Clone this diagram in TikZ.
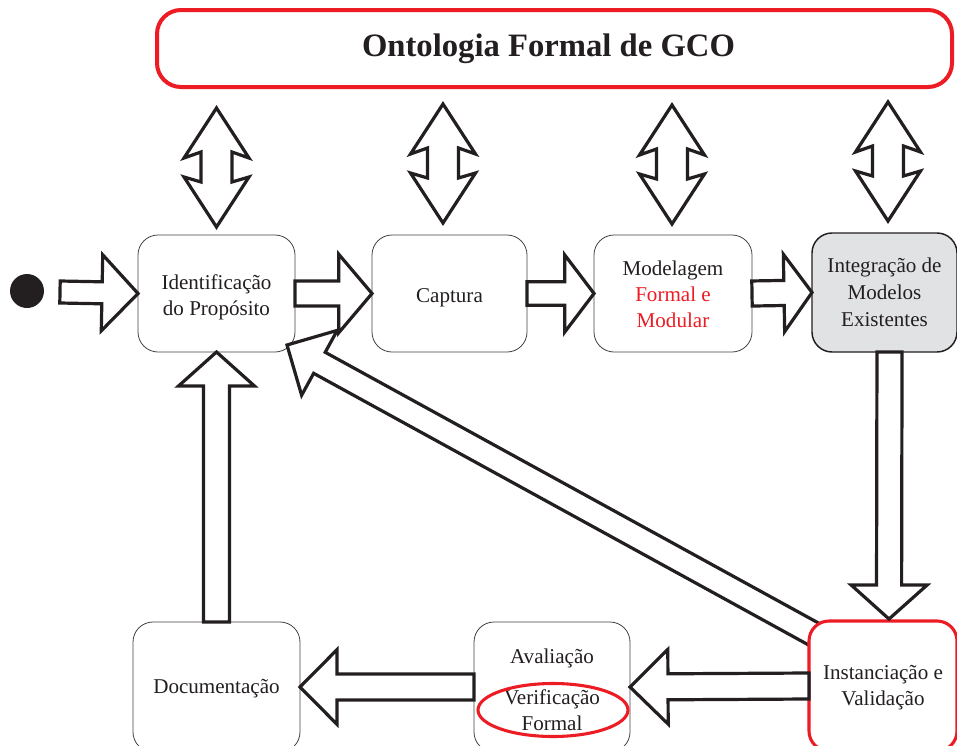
\documentclass[tikz,border=0pt]{standalone}
\usepackage{fontspec}
\setmainfont{Liberation Serif}
\usetikzlibrary{calc}

\definecolor{ink}{HTML}{231F20}
\definecolor{redline}{HTML}{ED1C24}
\definecolor{panel}{HTML}{E1E2E4}

\tikzset{
  stage/.style={draw=ink!85, line width=0.6pt, fill=white, rounded corners=15pt,
    inner sep=0pt, outer sep=0pt, text=ink,
    font=\fontsize{15.8}{19.5}\selectfont, minimum height=87.75pt},
  hollow/.style={draw=ink, line width=2.4pt, fill=white, line join=miter, miter limit=4},
  pics/twoway/.style={code={
    \draw[hollow] (0,-59.5) -- (32.5,-9.5) -- (15.5,-15.5) -- (15.5,14.5) -- (32.5,9.5)
      -- (0,59.5) -- (-32.5,9.5) -- (-15.5,14.5) -- (-15.5,-15.5) -- (-32.5,-9.5) -- cycle;
  }}
}

% centred lines of a stage label, drawn #1 lower than the box they occupy
\newcommand\stagetext[2]{\raisebox{-#1}[\height][\depth]{\begin{tabular}{@{}c@{}}#2\end{tabular}}}

% hollow block arrow: tail, tip, shaft half width, head half width, head length
\newcommand\hollowarrow[5]{%
  \coordinate (ha-base) at ($(#2)!#5!(#1)$);
  \draw[hollow] ($(#1)!#3!90:(#2)$) -- ($(ha-base)!#3!90:(#2)$) -- ($(ha-base)!#4!90:(#2)$)
    -- (#2) -- ($(ha-base)!#4!-90:(#2)$) -- ($(ha-base)!#3!-90:(#2)$)
    -- ($(#1)!#3!-90:(#2)$) -- cycle;
}

\begin{document}
\begin{tikzpicture}[x=0.75pt, y=-0.75pt]
\clip (0,0) rectangle (957,746);
\fill[white] (0,0) rectangle (957,746);

% ontology banner
\node[draw=redline, line width=3pt, rounded corners=18pt, fill=white,
  minimum width=596.25pt, minimum height=57.75pt, inner sep=0pt, outer sep=0pt,
  text=ink, font=\fontsize{24.5}{28}\selectfont\bfseries] (onto) at (554.5,48.5)
  {\hspace*{-9pt}Ontologia Formal de GCO};

% process stages
\node[stage, minimum width=117.75pt] (idp) at (216.5,293.5)
  {\stagetext{2.6pt}{Identificação\\do Propósito}};
\node[stage, minimum width=116.25pt] (cap) at (449.5,293.5) {\stagetext{3pt}{Captura}};
\node[stage, minimum width=118.5pt] (mod) at (673,293.5)
  {\stagetext{2.25pt}{Modelagem\\\textcolor{redline}{Formal e}\\\textcolor{redline}{Modular}}};
\node[stage, draw=ink, line width=1.1pt, fill=panel, minimum width=108.75pt,
  minimum height=89.25pt] (int) at (884.5,292.5)
  {\stagetext{1.5pt}{Integração de\\[0.6pt]Modelos\\[0.6pt]Existentes}};
\node[stage, minimum width=125.25pt, minimum height=97.5pt] (doc) at (216.5,687)
  {\stagetext{0.75pt}{Documentação}};
\node[stage, minimum width=117pt, minimum height=97.5pt] (ava) at (552,687)
  {\stagetext{3.75pt}{Avaliação\\[11pt]Verificação\\Formal}};

% start marker
\node[circle, fill=ink, minimum size=25.5pt, inner sep=0pt] (start) at (27,291) {};
\coordinate (s0) at (60,292);

% feedback from instantiation back to purpose identification
\coordinate (dtip) at ([shift={(-8,-7)}]idp.south east);
\coordinate (dtail) at (819,637);
\hollowarrow{dtail}{dtip}{9pt}{27.75pt}{27.75pt}

\node[stage, draw=redline, line width=2.3pt, minimum width=111pt, minimum height=97.5pt]
  (ins) at (883,686) {\stagetext{1.1pt}{Instanciação e\\Validação}};

% main flow
\hollowarrow{s0}{idp.west}{8.25pt}{28.5pt}{27pt}
\hollowarrow{idp.east}{cap.west}{9.4pt}{29.5pt}{25pt}
\hollowarrow{cap.east}{mod.west}{8.8pt}{29pt}{22pt}
\hollowarrow{mod.east}{int.west}{9.4pt}{29pt}{21pt}

\coordinate (r0) at ([xshift=3.75pt]int.south);
\coordinate (r1) at ([xshift=4.5pt,yshift=1.5pt]ins.north);
\hollowarrow{r0}{r1}{9.4pt}{28.5pt}{25.5pt}

\hollowarrow{ins.west}{ava.east}{9.75pt}{28pt}{28.5pt}
\hollowarrow{ava.west}{doc.east}{9.75pt}{28pt}{27.75pt}
\hollowarrow{doc.north}{idp.south}{9.75pt}{28.5pt}{25.5pt}

% links with the ontology
\pic (o1) at ($($(onto.south -| idp.north)!0.5!(idp.north)$) + (0,6.5)$) {twoway};
\pic (o2) at ($($(onto.south -| cap.north)!0.5!(cap.north)$) + (-6.5,2.5)$) {twoway};
\pic (o3) at ($($(onto.south -| mod.north)!0.5!(mod.north)$) + (-1,3.5)$) {twoway};
\pic (o4) at ($($(onto.south -| int.north)!0.5!(int.north)$) + (3.5,1.5)$) {twoway};

% highlight around the formal verification
\draw[redline, line width=2.3pt] (553,710) ellipse [x radius=75, y radius=26.5];
\end{tikzpicture}
\end{document}
